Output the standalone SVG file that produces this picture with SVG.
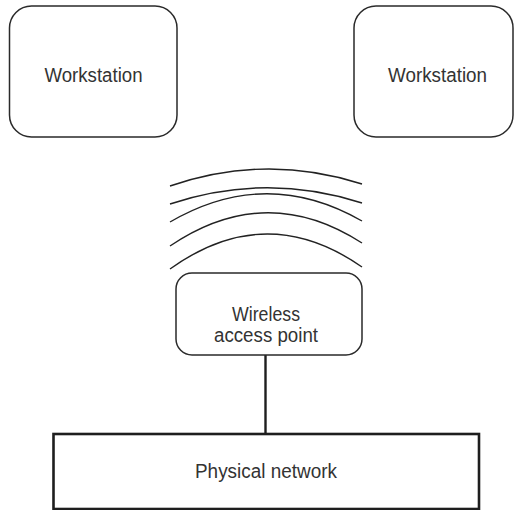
<svg xmlns="http://www.w3.org/2000/svg" width="514" height="510" viewBox="0 0 514 510">
<style>
.node{fill:#fff;stroke:#2a2a2a;stroke-width:1.5}
.net{fill:#fff;stroke:#1e1e1e;stroke-width:2.6}
.lbl{font-family:"Liberation Sans",Arial,sans-serif;font-size:20px;fill:#333;text-anchor:middle}
.wave{fill:none;stroke:#222;stroke-width:1.4}
.conn{stroke:#1e1e1e;stroke-width:2.4}
</style>
<rect width="514" height="510" fill="#fff"/>
<g id="ws1">
<rect class="node" x="9.5" y="6" width="167.5" height="131" rx="22"/>
<text class="lbl" x="93.5" y="82" textLength="98" lengthAdjust="spacingAndGlyphs">Workstation</text>
</g>
<g id="ws2">
<rect class="node" x="354" y="6" width="159" height="131" rx="22"/>
<text class="lbl" x="437.5" y="82" textLength="99" lengthAdjust="spacingAndGlyphs">Workstation</text>
</g>
<g id="waves">
<path class="wave" d="M170,186 Q266,153 362,184"/>
<path class="wave" d="M170,204 Q266,172 362,203"/>
<path class="wave" d="M170,222 Q266,166 362,221"/>
<path class="wave" d="M170,246 Q266,181 362,243"/>
<path class="wave" d="M170,269 Q266,200 362,267"/>
</g>
<g id="connectors">
<line class="conn" x1="265.5" y1="355" x2="265.5" y2="434"/>
</g>
<g id="ap">
<rect class="node" x="176" y="273" width="186" height="82" rx="16"/>
<text class="lbl" x="266" y="321" textLength="68" lengthAdjust="spacingAndGlyphs">Wireless</text>
<text class="lbl" x="266" y="342" textLength="104" lengthAdjust="spacingAndGlyphs">access point</text>
</g>
<g id="net">
<rect class="net" x="53.5" y="434" width="425.5" height="75"/>
<text class="lbl" x="266" y="478" textLength="142" lengthAdjust="spacingAndGlyphs">Physical network</text>
</g>
</svg>
